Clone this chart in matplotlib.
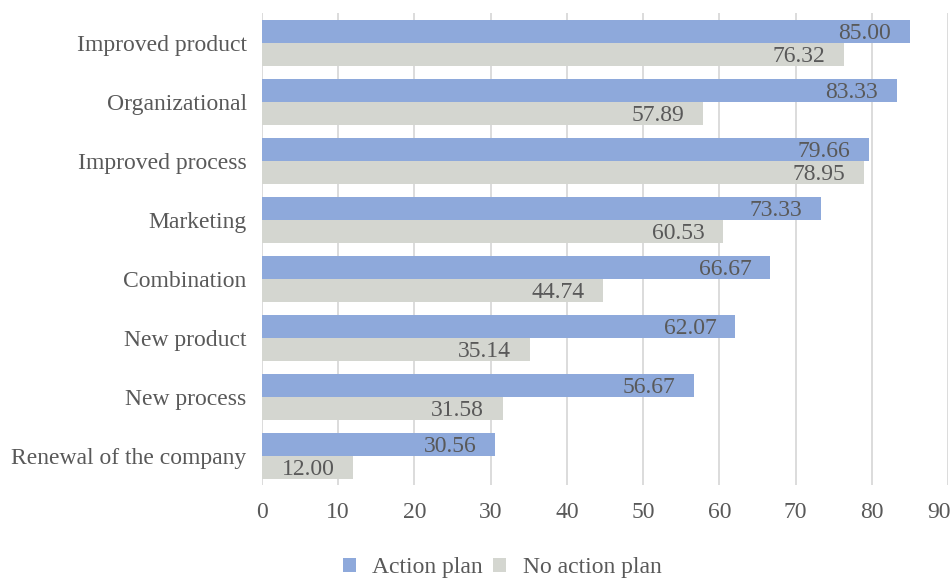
import numpy as np
import matplotlib.pyplot as plt
import matplotlib.transforms as mtransforms

plt.rcParams['font.family'] = ['Liberation Serif', 'DejaVu Serif']

categories = ["Improved product", "Organizational", "Improved process", "Marketing",
              "Combination", "New product", "New process", "Renewal of the company"]
action_plan = [85.00, 83.33, 79.66, 73.33, 66.67, 62.07, 56.67, 30.56]
no_action_plan = [76.32, 57.89, 78.95, 60.53, 44.74, 35.14, 31.58, 12.00]

blue = "#8EA9DB"
grey = "#D4D6D0"
txt = "#595959"
fs = 17

fig = plt.figure(figsize=(9.53, 5.79), dpi=100)
ax = fig.add_axes([0.2749, 0.1623, 0.7198, 0.8152])

y = np.arange(len(categories))[::-1]
h = 0.39
b1 = ax.barh(y + h/2, action_plan, height=h, color=blue, label="Action plan")
b2 = ax.barh(y - h/2, no_action_plan, height=h, color=grey, label="No action plan")

for bars, vals in [(b1, action_plan), (b2, no_action_plan)]:
    for bar, v in zip(bars, vals):
        ax.annotate(f"{v:.2f}", (bar.get_width(), bar.get_y() + bar.get_height()/2),
                    xytext=(-13.5, -1.5), textcoords="offset points",
                    ha="right", va="center", fontsize=fs, color=txt)

ax.set_xlim(0, 90)
ax.set_xticks(np.arange(0, 91, 10))
ax.set_ylim(-0.5, len(categories) - 0.5)
ax.set_yticks(y)
ax.set_yticklabels(categories)
ax.tick_params(axis="both", length=0, labelsize=fs, labelcolor=txt)
ax.tick_params(axis="x", pad=12)
ax.tick_params(axis="y", pad=11)
ax.xaxis.grid(True, color="#D9D9D9", lw=1.3)
ax.set_axisbelow(True)
for s in ax.spines.values():
    s.set_visible(False)

# keep the last tick label ("90") inside the figure
last = ax.xaxis.get_major_ticks()[-1].label1
last.set_transform(last.get_transform() + mtransforms.ScaledTranslation(-0.09, 0, fig.dpi_scale_trans))

leg = fig.legend(handles=[b1, b2], loc="center", bbox_to_anchor=(0.527, 0.019), ncol=2,
                 frameon=False, fontsize=fs, handlelength=0.55, handleheight=0.55,
                 handletextpad=0.7, columnspacing=0.45, borderpad=0)
for t in leg.get_texts():
    t.set_color(txt)

plt.savefig("out.png", dpi=100)
